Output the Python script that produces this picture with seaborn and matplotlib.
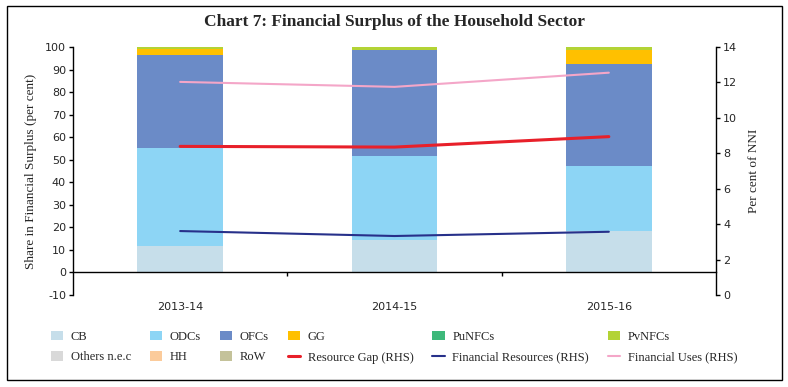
import numpy as np
import pandas as pd
import matplotlib
matplotlib.use("Agg")
import matplotlib.pyplot as plt
from matplotlib.patches import Patch, Rectangle
from matplotlib.lines import Line2D
import seaborn as sns

years = ["2013-14", "2014-15", "2015-16"]
cb = [11.7, 14.6, 18.3]
odcs = [43.3, 37.0, 28.9]
ofcs = [41.6, 47.2, 45.2]
gg = [2.4, 0.0, 6.3]
punfcs = [0.0, 0.0, 0.0]
pvnfcs = [1.0, 1.2, 1.2]
others = [0.0, 0.0, 0.0]
hh = [0.0, 0.0, 0.0]
row = [0.0, 0.0, 0.0]
resource_gap = [8.39, 8.35, 8.94]
fin_resources = [3.61, 3.33, 3.57]
fin_uses = [12.03, 11.75, 12.55]

series = [("CB", cb, "#C6DEEA"), ("ODCs", odcs, "#8DD5F5"), ("OFCs", ofcs, "#6B8BC7"),
          ("GG", gg, "#FFC000"), ("PuNFCs", punfcs, "#3DB87A"), ("PvNFCs", pvnfcs, "#B3D335"),
          ("Others n.e.c", others, "#D9D9D9"), ("HH", hh, "#FBCB9B"), ("RoW", row, "#C4C29A")]

sns.set_theme(style="white")
plt.rcParams["font.family"] = ["DejaVu Sans"]
plt.rcParams["axes.unicode_minus"] = False
serif = ["Liberation Serif", "DejaVu Serif"]

fig = plt.figure(figsize=(7.88, 3.87), dpi=100)
ax = fig.add_axes([73/788, 1-295/387, (716-73)/788, (295-47)/387])

# stacked bars via cumulative sums, drawn top-down
cum = np.cumsum(np.array([s[1] for s in series]), axis=0)
for i in range(len(series) - 1, -1, -1):
    df = pd.DataFrame({"year": years, "val": cum[i]})
    sns.barplot(data=df, x="year", y="val", color=series[i][2], width=0.4,
                saturation=1, ax=ax, edgecolor="none", linewidth=0)

ax.set_ylim(-10, 100)
ax.set_xlim(-0.5, 2.5)
ax.set_yticks(range(-10, 101, 10))
ax.set_xlabel("")
ax.set_ylabel("Share in Financial Surplus (per cent)", family=serif, fontsize=9.5, labelpad=6)
for s in ["top", "right"]:
    ax.spines[s].set_visible(False)
ax.spines["bottom"].set_position(("data", 0))
ax.spines["bottom"].set_color("black")
ax.spines["left"].set_color("black")
ax.spines["left"].set_linewidth(1)
ax.spines["bottom"].set_linewidth(1)
ax.tick_params(axis="y", which="major", direction="out", length=3, width=1, color="black",
               labelsize=8, left=True, pad=2)
ax.set_xticks([0, 1, 2])
ax.set_xticklabels(years)
ax.set_xticks([0.5, 1.5], minor=True)
ax.tick_params(axis="x", which="major", length=0, labelsize=8, pad=21)
ax.tick_params(axis="x", which="minor", direction="out", length=3, width=1, color="black", bottom=True)

ax2 = ax.twinx()
line_specs = [("Resource Gap (RHS)", resource_gap, "#E8202A", 2.2),
              ("Financial Resources (RHS)", fin_resources, "#27308A", 1.5),
              ("Financial Uses (RHS)", fin_uses, "#F4A6C8", 1.5)]
for name, vals, col, lw in line_specs:
    sns.lineplot(x=[0, 1, 2], y=vals, color=col, linewidth=lw, ax=ax2, sort=False)
ax2.set_ylim(0, 14)
ax2.set_yticks(range(0, 15, 2))
ax2.set_xlim(-0.5, 2.5)
for s in ["top", "left", "bottom"]:
    ax2.spines[s].set_visible(False)
ax2.spines["right"].set_color("black")
ax2.spines["right"].set_linewidth(1)
ax2.tick_params(axis="y", direction="out", length=3, width=1, color="black", labelsize=8, right=True, pad=2)
ax2.set_ylabel("Per cent of NNI", family=serif, fontsize=9.5, labelpad=8)
ax2.grid(False)
ax.grid(False)

fig.text(0.5, 1-22/387, "Chart 7: Financial Surplus of the Household Sector", ha="center", va="center",
         family=serif, fontsize=12.5, fontweight="bold")

# legend
h = {name: Patch(facecolor=col, edgecolor="none") for name, _, col in series}
for name, _, col, lw in line_specs:
    h[name] = Line2D([0], [0], color=col, linewidth=lw)
order = ["CB", "Others n.e.c", "ODCs", "HH", "OFCs", "RoW", "GG", "Resource Gap (RHS)",
         "PuNFCs", "Financial Resources (RHS)", "PvNFCs", "Financial Uses (RHS)"]
fig.legend([h[o] for o in order], order, ncol=6, loc="center", bbox_to_anchor=(0.5, 1-347/387),
           frameon=False, prop={"family": serif, "size": 9}, handlelength=1.0, handleheight=0.8,
           columnspacing=1.5, handletextpad=0.6, labelspacing=0.7)

fig.add_artist(Rectangle((7/788, 1-380/387), (782-7)/788, (380-6)/387, transform=fig.transFigure,
                         fill=False, edgecolor="black", linewidth=1))

fig.savefig("out.png", dpi=100)
